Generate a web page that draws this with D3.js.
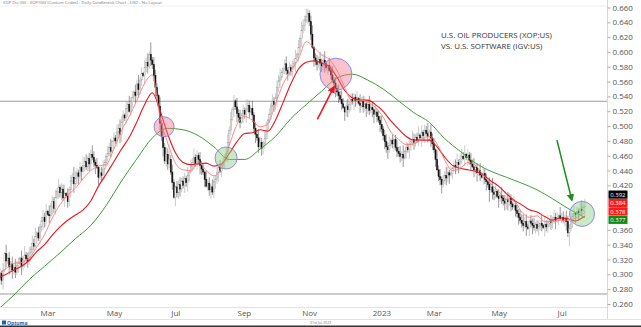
<!DOCTYPE html>
<html><head><meta charset="utf-8">
<script src="https://cdn.jsdelivr.net/npm/d3@7"></script>
<style>
html,body{margin:0;padding:0;background:#fff;}
svg{display:block;font-family:"Open Sans",sans-serif;}
</style></head><body>
<svg id="c" width="641" height="327"></svg>
<script>
// ---------- DATA ----------
const startDate = "2022-01-20";
const holidays = ["2022-02-21","2022-04-15","2022-05-30","2022-06-20","2022-07-04","2022-09-05","2022-11-24","2022-12-26","2023-01-02","2023-01-16","2023-02-20","2023-04-07","2023-05-29","2023-06-19","2023-07-04"];
// daily closes of XOP/IGV ratio (thousandths)
const closes = [
296,301,292,305,328,318,322,310,314,306,
309,303,312,315,322,311,319,326,321,
317,329,334,342,338,351,356,349,364,372,
377,371,385,381,379,392,398,389,404,412,
417,410,415,403,409,406,398,414,426,
431,422,429,437,432,444,439,447,452,445,
456,449,462,458,451,447,444,431,437,
433,442,451,459,463,471,466,479,484,480,
492,497,489,505,515,511,524,529,520,533,
539,546,541,557,549,562,571,568,579,
586,581,597,589,583,568,552,541,527,504,
486,471,453,462,449,455,438,424,404,
418,410,421,415,426,420,429,424,433,438,
445,451,458,449,460,455,447,442,438,428,
419,423,414,418,411,425,428,437,444,
439,447,452,458,463,478,494,509,522,534,
526,517,512,505,514,521,516,523,528,519,
524,515,497,489,484,472,478,470,476,
483,494,508,516,527,533,529,538,552,561,
566,572,578,584,575,571,579,574,580,
585,591,597,606,618,629,636,643,648,652,
641,624,606,592,588,583,590,585,581,589,
584,579,582,575,569,562,558,551,546,
541,536,530,525,519,527,522,529,536,533,
539,534,537,531,528,533,526,530,524,529,
521,525,522,516,519,513,508,502,496,
487,479,472,468,474,481,476,482,471,466,
463,459,462,457,466,471,468,475,479,
482,478,485,481,488,484,491,487,494,490,
486,492,484,476,468,455,441,432,428,421,
426,433,430,437,434,436,443,447,445,
451,448,455,459,456,462,458,461,454,449,
445,441,444,437,440,434,431,436,428,425,
421,414,418,411,408,412,405,402,406,
403,399,396,401,398,402,395,391,393,386,
382,377,373,369,366,371,364,362,372,
369,366,363,367,362,365,369,366,363,367,
364,368,372,370,374,377,373,376,379,375,
377,373,376,371,356,362,371,378,382,
381,385,383,388,386,390,392
];
// wick extensions beyond the body (units of 0.002)
const wickUp = ("3425163425263415362442536142353516243526243615243753241635243642513462253614253643152634153624153628" +
"2543162435463521435234261536242534163425436251324635241635242643152436432561425335462135242436152643" +
"5324613425346215362425364135244325163452362415243624536142353526143526423615243725341635243642513462" +
"453614253623152634153624153624254316243546352143523426153624253416342543625132463524163524").split("").map(Number);
const wickDn = ("2536142536342516352426431524364315263415352614352624536142354236152437362415243653246134252534163524" +
"3462153624432516345225364135243642513462453614253623152634153624153624254316243546352143523426153624" +
"2534163425436251324635241635242643152436432561425335462135242436152643532416352436425134622536142536" +
"431526341536241536282543162435463521435234261536242534163425436251324639241635242643152436").split("").map(Number);
const wickUnit = 0.002;

const fastMA = [.300,.308,.315,.316,.322,.337,.354,.376,.394,.407,.416,.429,.440,.446,.448,.469,.494,.513,.535,.558,
.569,.512,.477,.450,.441,.440,.452,.440,.433,.444,.474,.502,.513,.508,.499,.503,.530,.557,.574,.591,
.614,.606,.596,.590,.575,.552,.533,.535,.532,.525,.512,.492,.482,.475,.476,.482,.486,.476,.454,.440,
.443,.451,.447,.434,.422,.412,.401,.399,.384,.377,.379,.371,.371,.373,.373,.376,.382,.384];
const slowMA = [.295,.300,.306,.311,.319,.331,.340,.353,.364,.373,.380,.387,.399,.419,.435,.452,.469,.485,.506,.529,
.545,.521,.489,.464,.451,.448,.449,.450,.446,.449,.463,.479,.490,.491,.495,.493,.508,.532,.557,.577,
.586,.588,.585,.580,.566,.548,.538,.535,.535,.529,.520,.507,.496,.486,.481,.481,.481,.472,.458,.447,
.443,.441,.439,.434,.426,.419,.409,.400,.394,.387,.384,.378,.373,.376,.375,.372,.377,.378];
const longMA = [.253,.272,.293,.311,.329,.348,.366,.393,.426,.456,.484,.497,.495,.487,.472,.455,.455,.469,.486,.510,
.529,.547,.565,.570,.562,.550,.534,.518,.505,.483,.466,.450,.439,.431,.423,.414,.402,.389,.378,.377];

const yTicks = [0.26,0.28,0.30,0.32,0.34,0.36,0.38,0.40,0.42,0.44,0.46,0.48,0.50,0.52,0.54,0.56,0.58,0.60,0.62,0.64,0.66];
const lastValues = [0.392, 0.384, 0.378, 0.377];
const lastColors = ["#000000", "#ff1a1a", "#ff1a1a", "#118a11"];
const hLines = [0.5335, 0.2735];
const titleLines = ["U.S. OIL PRODUCERS (XOP:US)", "VS. U.S. SOFTWARE (IGV:US)"];
const headerText = "XOP Div IGV - XOP/IGV (Custom Codes) - Daily Candlestick Chart - USD - No Layout";
// annotations in data coordinates: [candle index, value]
const circles = [{i:107.6, v:0.499, kind:"red"}, {i:147.9, v:0.457, kind:"green"}, {i:219.3, v:0.570, kind:"red"}, {i:379.2, v:0.3815, kind:"green"}];
const arrows = [{from:[207.2,0.509], to:[218.0,0.553], kind:"red"}, {from:[362.9,0.481], to:[372.6,0.400], kind:"green"}];

// ---------- LAYOUT ----------
const svg = d3.select("#c");
const W = 641, H = 327, plotR = 607, axisY = 307;
const N = closes.length;
const x = d3.scaleLinear().domain([0, N-1]).range([-1.55, 584.8]);
const y = d3.scaleLinear().domain([0.26, 0.64]).range([304, 22.3]);

// trading dates
const hol = new Set(holidays);
const fmt = d3.timeFormat("%Y-%m-%d");
const dates = [];
let d = d3.timeParse("%Y-%m-%d")(startDate);
while (dates.length < N) {
  const wd = d.getDay();
  if (wd !== 0 && wd !== 6 && !hol.has(fmt(d))) dates.push(new Date(d));
  d = d3.timeDay.offset(d, 1);
}
const tickIdx = [];
for (let i = 1; i < N; i++) {
  const m = dates[i].getMonth();
  if (m !== dates[i-1].getMonth() && m % 2 === 0) tickIdx.push(i);
}

svg.append("rect").attr("width", W).attr("height", H).attr("fill", "#fff");

// header
svg.append("text").attr("x", 3).attr("y", 4.2).attr("font-size", 4.2).attr("fill", "#777").text(headerText);
svg.append("line").attr("x1", 0).attr("x2", plotR).attr("y1", 6).attr("y2", 6).attr("stroke", "#eee");

const plot = svg.append("g");
plot.append("clipPath").attr("id", "clip").append("rect").attr("x", 0).attr("y", 6).attr("width", plotR).attr("height", axisY - 6);
const g = plot.append("g").attr("clip-path", "url(#clip)");

// horizontal reference lines
g.selectAll("line.h").data(hLines).join("line").attr("class", "h")
  .attr("x1", 0).attr("x2", plotR).attr("y1", v => y(v)).attr("y2", v => y(v))
  .attr("stroke", "#9a9a9a").attr("stroke-width", 1);

// candles
const data = closes.map((c, i) => {
  const close = c / 1000, open = i ? closes[i-1] / 1000 : close;
  return {i, open, close,
    hi: Math.max(open, close) + (wickUp[i] || 0) * wickUnit,
    lo: Math.min(open, close) - (wickDn[i] || 0) * wickUnit};
});
g.selectAll("line.w").data(data).join("line").attr("class", "w")
  .attr("x1", d => x(d.i)).attr("x2", d => x(d.i)).attr("y1", d => y(d.hi)).attr("y2", d => y(d.lo))
  .attr("stroke", d => d.close >= d.open ? "#a8a8a8" : "#555").attr("stroke-width", 0.6);
g.selectAll("rect.b").data(data).join("rect").attr("class", "b")
  .attr("x", d => x(d.i) - 0.6).attr("width", 1.2)
  .attr("y", d => y(Math.max(d.open, d.close)))
  .attr("height", d => Math.max(0.8, Math.abs(y(d.open) - y(d.close))))
  .attr("fill", d => d.close >= d.open ? "#fff" : "#111")
  .attr("stroke", d => d.close >= d.open ? "#9a9a9a" : "#111")
  .attr("stroke-width", 0.45);

// moving averages
function maPts(arr, step) {
  return arr.map((v, k) => [k === arr.length - 1 ? N - 1 : k * step, v]);
}
const line = d3.line().x(p => x(p[0])).y(p => y(p[1])).curve(d3.curveMonotoneX);
g.append("path").datum(maPts(longMA, 10)).attr("d", line).attr("fill", "none").attr("stroke", "#3f9c38").attr("stroke-width", 1);
g.append("path").datum(maPts(slowMA, 5)).attr("d", line).attr("fill", "none").attr("stroke", "#e8161c").attr("stroke-width", 1.1);
g.append("path").datum(maPts(fastMA, 5)).attr("d", line).attr("fill", "none").attr("stroke", "#ff7a7a").attr("stroke-width", 0.9);

// annotations
const circR = [10, 11, 16, 12.5];
svg.selectAll("circle.a").data(circles).join("circle").attr("class", "a")
  .attr("cx", c => x(c.i)).attr("cy", c => y(c.v)).attr("r", (c, k) => circR[k])
  .attr("fill", c => c.kind === "red" ? "rgba(245,120,140,0.45)" : "rgba(140,205,130,0.45)")
  .attr("stroke", "#8c8ce6").attr("stroke-width", 1);

const defs = svg.append("defs");
[["red", "#e8161c"], ["green", "#1f8c1f"]].forEach(([k, col]) => {
  defs.append("marker").attr("id", "ah-" + k).attr("viewBox", "0 0 10 10").attr("refX", 8).attr("refY", 5)
    .attr("markerWidth", 5).attr("markerHeight", 5).attr("orient", "auto")
    .append("path").attr("d", "M0,0L10,5L0,10z").attr("fill", col);
});
svg.selectAll("line.arr").data(arrows).join("line").attr("class", "arr")
  .attr("x1", a => x(a.from[0])).attr("y1", a => y(a.from[1]))
  .attr("x2", a => x(a.to[0])).attr("y2", a => y(a.to[1]))
  .attr("stroke", a => a.kind === "red" ? "#e8161c" : "#1f8c1f").attr("stroke-width", 1.5)
  .attr("marker-end", a => "url(#ah-" + a.kind + ")");

// title
svg.selectAll("text.t").data(titleLines).join("text").attr("class", "t")
  .attr("x", 441).attr("y", (t, k) => 37.5 + k * 11).attr("font-size", 7.9).attr("fill", "#333").text(t => t);

// last value box positions (stacked around their mean)
const ys = lastValues.map(v => y(v));
const mean = d3.mean(ys) - 5.8;
const bh = 8.2, gap = 8.4, boxFont = 6;
const boxCY = lastValues.map((v, k) => mean + (k - (lastValues.length - 1) / 2) * gap);
const boxTop = boxCY[0] - bh / 2, boxBot = boxCY[boxCY.length - 1] + bh / 2;

// right axis (labels hidden behind the value boxes are not drawn)
svg.append("line").attr("x1", plotR + 0.5).attr("x2", plotR + 0.5).attr("y1", 0).attr("y2", 320).attr("stroke", "#d8d8d8");
const visTicks = yTicks.filter(t => y(t) < boxTop - 2 || y(t) > boxBot + 2);
const ya = svg.append("g").attr("transform", `translate(${plotR + 0.5},0)`)
  .call(d3.axisRight(y).tickValues(visTicks).tickSize(3).tickPadding(2).tickFormat(d3.format(".3f")));
ya.select(".domain").remove();
ya.selectAll("line").attr("stroke", "#aaa");
ya.selectAll("text").attr("font-size", 8).attr("fill", "#555").attr("font-family", "Open Sans, sans-serif");

const vb = svg.append("g");
lastValues.forEach((v, k) => {
  const cy = boxCY[k];
  vb.append("rect").attr("x", 608.5).attr("y", cy - bh / 2).attr("width", 19).attr("height", bh).attr("fill", lastColors[k]);
  vb.append("text").attr("x", 610.2).attr("y", cy + 2.1).attr("font-size", boxFont).attr("fill", "#fff").text(d3.format(".3f")(v));
});

// bottom axis
svg.append("line").attr("x1", 0).attr("x2", plotR).attr("y1", axisY + 0.5).attr("y2", axisY + 0.5).attr("stroke", "#e2e2e2");
svg.append("line").attr("x1", 0).attr("x2", W).attr("y1", 319.5).attr("y2", 319.5).attr("stroke", "#e2e2e2");
const xa = svg.append("g").attr("transform", `translate(0,${axisY})`)
  .call(d3.axisBottom(x).tickValues(tickIdx).tickSize(0).tickPadding(0)
    .tickFormat(i => dates[i].getMonth() === 0 ? d3.timeFormat("%Y")(dates[i]) : d3.timeFormat("%b")(dates[i])));
xa.select(".domain").remove();
xa.selectAll("text").attr("text-anchor", "start").attr("dy", "9").attr("font-size", 8).attr("fill", "#555").attr("font-family", "Open Sans, sans-serif")
  .attr("dx", i => dates[i].getMonth() === 0 ? 6 : 0);

// footer
svg.append("rect").attr("x", 2).attr("y", 320.5).attr("width", 4).attr("height", 4).attr("fill", "#1b5fae");
svg.append("text").attr("x", 7).attr("y", 324.5).attr("font-size", 5).attr("font-weight", "bold").attr("fill", "#1b5fae").text("Optuma");
svg.append("text").attr("x", 310).attr("y", 323.5).attr("font-size", 3.6).attr("fill", "#777").text("31st Jul 2023");
svg.append("rect").attr("x", 0).attr("y", 325.5).attr("width", W).attr("height", 1.5).attr("fill", "#333");
</script>
</body></html>
